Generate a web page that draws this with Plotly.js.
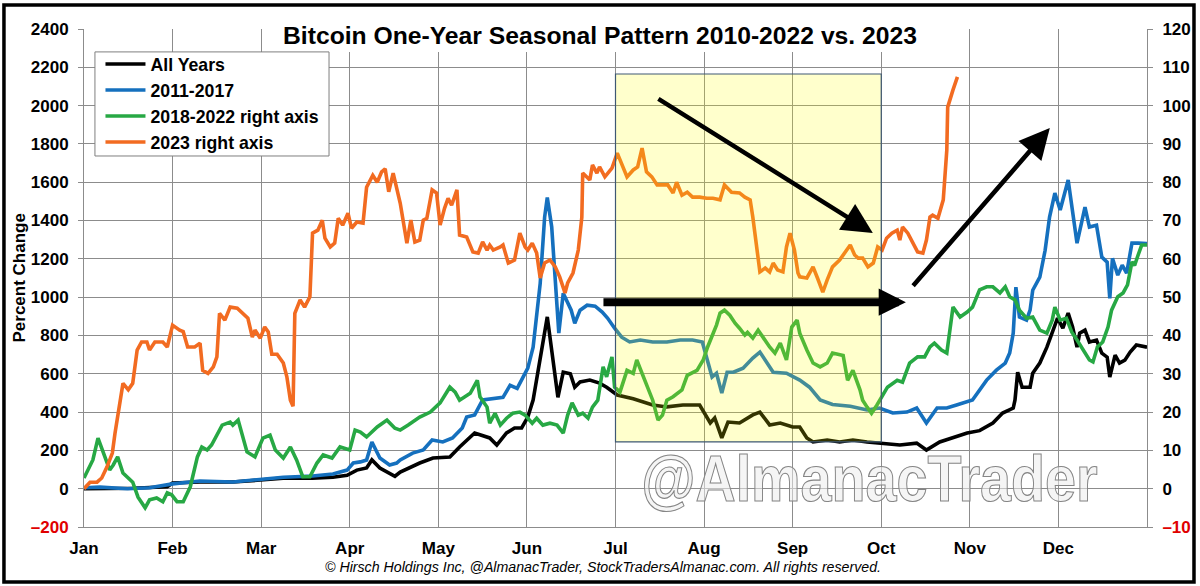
<!DOCTYPE html>
<html>
<head>
<meta charset="utf-8">
<script src="https://cdn.plot.ly/plotly-3.0.1.min.js"></script>
<style>html,body{margin:0;padding:0;background:#fff;}#chart{width:1200px;height:586px;}</style>
</head>
<body>
<div id="chart"></div>
<script>
// x values are positions in months (0 = start of Jan, 12 = end of Dec)
const months = ['Jan','Feb','Mar','Apr','May','Jun','Jul','Aug','Sep','Oct','Nov','Dec',''];
const leftTicks = [-200,0,200,400,600,800,1000,1200,1400,1600,1800,2000,2200,2400];
const rightTicks = [-10,0,10,20,30,40,50,60,70,80,90,100,110,120];

const allYearsX = [0,0.55,0.94,1.00,1.31,1.68,1.99,2.25,2.58,2.81,2.97,3.08,3.19,3.25,3.34,3.51,3.57,3.79,3.94,4.13,4.24,4.41,4.58,4.66,4.77,4.86,4.94,5.01,5.07,5.23,5.35,5.41,5.49,5.54,5.60,5.71,5.82,5.90,6.02,6.20,6.42,6.58,6.76,6.95,7.07,7.12,7.20,7.27,7.40,7.55,7.63,7.74,7.86,8.00,8.08,8.16,8.23,8.39,8.53,8.68,8.84,8.98,9.21,9.40,9.51,9.66,9.81,9.97,10.11,10.26,10.37,10.49,10.51,10.54,10.59,10.68,10.71,10.79,10.87,10.94,10.99,11.05,11.11,11.16,11.21,11.24,11.30,11.35,11.43,11.49,11.55,11.58,11.64,11.69,11.75,11.81,11.88,12.0];
const allYearsY = [0,2,10,30,35,35,45,55,55,60,70,97,108,150,108,65,87,134,160,165,218,291,265,228,291,317,317,374,463,897,477,608,600,530,557,567,551,530,489,469,437,427,437,437,343,369,265,348,343,385,400,333,343,322,322,265,244,254,244,254,244,238,228,238,202,244,265,291,303,343,395,421,463,608,530,530,603,656,739,828,891,838,917,844,739,812,828,766,776,708,687,583,697,656,671,713,750,739];

const y2011X = [0,0.18,0.49,0.74,1.00,1.31,1.68,1.99,2.25,2.58,2.81,2.97,3.04,3.12,3.19,3.25,3.34,3.45,3.53,3.57,3.71,3.83,3.93,4.05,4.16,4.27,4.32,4.41,4.50,4.73,4.81,4.89,4.95,5.01,5.07,5.15,5.20,5.23,5.28,5.32,5.36,5.41,5.45,5.50,5.54,5.60,5.68,5.77,5.85,5.91,5.99,6.07,6.16,6.28,6.42,6.58,6.73,6.87,6.98,7.03,7.09,7.14,7.20,7.26,7.33,7.44,7.55,7.63,7.71,7.78,7.93,8.08,8.19,8.31,8.45,8.65,8.84,8.98,9.13,9.29,9.40,9.51,9.63,9.74,9.85,9.97,10.03,10.19,10.30,10.40,10.45,10.49,10.52,10.56,10.64,10.68,10.71,10.79,10.85,10.90,10.96,11.02,11.11,11.21,11.30,11.35,11.43,11.49,11.55,11.58,11.61,11.67,11.72,11.77,11.83,11.90,12.0];
const y2011Y = [5,8,0,5,25,40,35,50,60,66,77,97,134,140,150,244,160,124,134,150,186,202,254,244,265,317,374,385,463,477,540,524,582,629,739,1072,1418,1520,1366,1072,812,1020,985,932,864,932,958,953,922,891,838,791,766,776,766,766,776,776,766,687,583,603,499,608,608,629,682,713,656,608,603,567,530,463,440,430,411,421,395,400,421,343,421,421,437,453,463,567,619,656,708,812,1052,896,880,932,1036,1104,1245,1418,1543,1455,1612,1282,1470,1366,1376,1209,1183,994,1203,1115,1167,1125,1282,1282,1280];

const y2018X = [0,0.10,0.158,0.21,0.29,0.33,0.38,0.44,0.52,0.55,0.61,0.69,0.74,0.82,0.89,0.94,0.99,1.05,1.12,1.20,1.28,1.33,1.39,1.44,1.56,1.65,1.68,1.74,1.84,1.93,2.02,2.10,2.16,2.25,2.33,2.40,2.47,2.55,2.63,2.70,2.80,2.89,3.00,3.06,3.12,3.19,3.31,3.42,3.51,3.57,3.66,3.79,3.91,4.02,4.13,4.19,4.24,4.36,4.44,4.47,4.55,4.58,4.64,4.70,4.77,4.84,4.92,4.98,5.06,5.11,5.18,5.26,5.34,5.41,5.46,5.51,5.58,5.63,5.69,5.74,5.80,5.82,5.86,5.90,5.96,5.99,6.05,6.13,6.20,6.24,6.30,6.37,6.42,6.48,6.53,6.58,6.65,6.75,6.81,6.92,6.99,7.04,7.10,7.14,7.18,7.23,7.29,7.35,7.40,7.46,7.49,7.55,7.61,7.66,7.74,7.80,7.86,7.93,7.99,8.05,8.08,8.16,8.23,8.31,8.39,8.45,8.57,8.62,8.68,8.76,8.79,8.84,8.89,8.95,8.98,9.07,9.18,9.24,9.32,9.41,9.49,9.55,9.60,9.68,9.74,9.81,9.89,9.97,10.03,10.11,10.19,10.26,10.34,10.40,10.45,10.51,10.56,10.64,10.71,10.79,10.87,10.93,10.96,11.02,11.09,11.15,11.21,11.28,11.35,11.39,11.44,11.50,11.56,11.60,11.67,11.73,11.78,11.83,11.86,11.90,11.94,12.0];
const y2018Y = [2.8,7.5,13.2,10.1,4.9,6.2,8.3,4.1,2.3,1.7,-2.2,-5.0,-2.9,-2.4,-3.4,-1.1,-1.6,-3.4,-3.4,0.5,8.3,10.9,10.1,11.4,16.6,17.4,16.6,17.9,9.6,8.3,13.2,14.0,10.1,8.0,10.9,7.5,3.1,3.1,6.7,8.8,8.0,10.9,10.1,15.3,14.8,13.5,16.1,17.9,15.8,15.3,16.6,18.7,20.0,22.4,26.5,25.2,23.1,24.9,28.3,24.0,21.3,17.1,19.7,16.6,18.4,19.7,20.0,19.2,17.1,18.4,16.6,17.1,16.6,14.5,19.2,22.4,19.2,19.7,18.4,21.3,23.1,26.5,31.8,29.2,34.4,26.5,25.2,30.9,30.1,33.6,30.1,25.8,23.1,17.9,19.2,23.1,24.0,25.8,29.6,30.9,33.6,37.0,40.6,42.7,45.8,46.6,45.3,43.2,41.9,40.1,40.8,39.3,41.4,39.6,37.0,35.4,38.0,33.6,42.2,44.0,40.6,36.2,32.8,31.8,32.8,35.4,34.8,28.3,30.9,25.8,23.1,21.3,19.7,21.8,23.1,26.5,28.3,27.8,32.8,34.4,34.4,37.0,38.0,36.2,35.4,47.4,44.8,46.1,47.4,51.9,52.7,52.7,51.1,52.7,50.1,49.3,46.6,44.5,44.8,41.4,40.6,44.0,47.4,44.0,44.5,40.9,38.8,36.2,33.6,33.1,37.0,38.3,42.2,46.6,50.1,51.1,53.2,59.2,58.3,61.0,63.6,63.6];

const y2023X = [0,0.068,0.147,0.20,0.26,0.32,0.35,0.41,0.44,0.50,0.55,0.60,0.65,0.71,0.74,0.80,0.89,0.94,1.00,1.08,1.12,1.17,1.25,1.31,1.34,1.40,1.46,1.50,1.53,1.59,1.65,1.73,1.79,1.85,1.90,1.93,1.99,2.04,2.08,2.12,2.18,2.25,2.29,2.33,2.36,2.38,2.44,2.49,2.55,2.58,2.64,2.69,2.72,2.78,2.83,2.87,2.92,2.98,3.02,3.08,3.15,3.19,3.26,3.31,3.36,3.40,3.44,3.49,3.57,3.645,3.69,3.735,3.79,3.83,3.87,3.93,3.98,4.02,4.07,4.11,4.15,4.21,4.24,4.32,4.39,4.45,4.50,4.55,4.58,4.62,4.70,4.73,4.79,4.86,4.92,4.98,5.01,5.06,5.11,5.15,5.20,5.26,5.32,5.37,5.43,5.46,5.52,5.58,5.62,5.63,5.71,5.74,5.79,5.82,5.88,5.96,6.02,6.07,6.13,6.20,6.25,6.30,6.35,6.41,6.47,6.53,6.59,6.65,6.69,6.75,6.81,6.87,6.95,7.03,7.10,7.18,7.23,7.31,7.40,7.46,7.52,7.55,7.60,7.63,7.69,7.74,7.78,7.83,7.89,7.93,7.97,8.02,8.06,8.08,8.16,8.23,8.28,8.34,8.39,8.45,8.53,8.59,8.65,8.70,8.74,8.79,8.85,8.91,8.96,9.01,9.06,9.12,9.18,9.21,9.24,9.30,9.36,9.41,9.47,9.51,9.55,9.58,9.64,9.70,9.74,9.75,9.81,9.86];
const y2023Y = [0,1.7,1.7,2.8,5.7,9.3,14.5,23.1,27.5,25.8,27.5,36.2,38.3,38.3,36.2,38.3,38.3,37.0,42.7,41.4,41.0,37.0,37.0,38.0,30.9,30.1,31.8,34.4,45.8,44.0,47.4,47.1,45.8,44.5,39.6,41.4,39.3,42.2,40.9,35.1,35.1,32.8,29.2,23.1,21.5,45.8,49.3,47.4,50.1,66.7,67.5,70.1,65.4,63.1,64.1,70.6,68.8,71.9,68.0,69.6,69.3,78.7,81.8,80.0,82.7,83.5,77.5,82.4,74.5,64.1,70.1,64.4,64.9,70.1,70.6,78.0,77.2,68.8,73.2,75.8,74.0,78.0,66.2,65.7,61.8,61.5,64.4,62.3,63.6,62.3,63.1,63.6,58.9,59.7,66.7,63.1,62.3,64.1,61.5,55.0,58.9,59.7,57.9,55.3,51.1,53.7,56.3,62.3,70.9,82.4,80.6,84.5,82.4,84.0,81.4,83.7,87.6,84.5,81.4,83.2,84.0,88.9,82.7,81.4,79.3,79.3,79.3,77.2,80.0,76.6,77.4,76.1,76.1,75.8,75.8,75.4,79.3,77.4,77.2,76.1,75.4,70.9,62.3,56.6,57.6,56.6,58.9,57.1,56.6,63.1,66.7,62.3,56.3,55.3,55.0,57.9,55.0,51.3,54.5,57.9,59.7,61.8,63.6,61.0,60.2,60.2,57.9,58.9,63.1,62.3,65.4,66.7,67.5,64.9,68.3,66.7,64.1,61.8,61.5,64.9,70.9,71.4,70.6,75.4,88.4,99.6,104.1,107.5];

const seriesNames = ['All Years','2011-2017','2018-2022 right axis','2023 right axis'];

const FONT = 'Liberation Sans, Arial, Helvetica, sans-serif';
const GRID = '#8c8c8c';
const LW = 3.6;

const traces = [
  {x: allYearsX, y: allYearsY, name: seriesNames[0], yaxis: 'y', line: {color: '#000000', width: LW}},
  {x: y2011X, y: y2011Y, name: seriesNames[1], yaxis: 'y', line: {color: '#1570BE', width: LW}},
  {x: y2018X, y: y2018Y, name: seriesNames[2], yaxis: 'y2', line: {color: '#27A844', width: LW}},
  {x: y2023X, y: y2023Y, name: seriesNames[3], yaxis: 'y2', line: {color: '#F26B21', width: LW}}
].map((t, i) => Object.assign({type: 'scatter', mode: 'lines', legendgroup: 'g' + i, hoverinfo: 'skip'}, t));

const red = v => '<span style="color:#E00000">' + v + '</span>';
const fmt = v => v < 0 ? '\u2013' + Math.abs(v) : String(v);
const tickFont = {family: FONT, size: 17, weight: 'bold', color: '#000000'};

const layout = {
  width: 1200, height: 586,
  margin: {l: 84, r: 53, t: 29, b: 59, pad: 0},
  paper_bgcolor: '#ffffff', plot_bgcolor: '#ffffff',
  font: {family: FONT, color: '#000000'},
  showlegend: true,
  title: {text: 'Bitcoin One-Year Seasonal Pattern 2010-2022 vs. 2023', x: 0.5, xanchor: 'center', y: 0.94, yanchor: 'middle', yref: 'container',
          font: {family: FONT, size: 24.7, weight: 'bold', color: '#000000'}},
  legend: {x: 0.0155, y: 0.966, xanchor: 'left', yanchor: 'top', bgcolor: 'rgba(0,0,0,0)', borderwidth: 0,
           font: {family: FONT, size: 17.7, weight: 'bold', color: '#000000'}, traceorder: 'grouped', tracegroupgap: 0, itemwidth: 40},
  xaxis: {range: [0, 12], tickmode: 'array', tickvals: months.map((m, i) => i), ticktext: months,
          showgrid: true, gridcolor: GRID, gridwidth: 1, zeroline: false, showline: true, linecolor: GRID, linewidth: 1,
          ticks: '', ticklabelstandoff: 6, tickfont: tickFont, fixedrange: true},
  yaxis: {range: [-200, 2400], tickmode: 'array', tickvals: leftTicks, ticktext: leftTicks.map(v => v < 0 ? red(fmt(v)) : fmt(v)),
          showgrid: true, gridcolor: GRID, gridwidth: 1, zeroline: false, showline: true, linecolor: GRID, linewidth: 1,
          ticks: 'outside', ticklen: 5, tickcolor: GRID, ticklabelstandoff: 6, tickfont: tickFont, fixedrange: true},
  yaxis2: {range: [-10, 120], overlaying: 'y', side: 'right', tickmode: 'array', tickvals: rightTicks,
           ticktext: rightTicks.map(v => v < 0 ? red(fmt(v)) : fmt(v)),
           showgrid: false, zeroline: false, showline: true, linecolor: GRID, linewidth: 1,
           ticks: 'outside', ticklen: 5, tickcolor: GRID, ticklabelstandoff: 6, tickfont: tickFont, fixedrange: true},
  shapes: [
    // highlighted Jul-Sep window
    {type: 'rect', xref: 'x', yref: 'y', x0: 6, x1: 9, y0: 244, y1: 2165, layer: 'above',
     fillcolor: 'rgba(255,255,0,0.2)', line: {color: '#3E5874', width: 1.2}},
    // white area behind the title
    {type: 'rect', xref: 'paper', yref: 'paper', x0: 0.1797, x1: 0.789, y0: 0.9538, y1: 1.03, layer: 'above',
     fillcolor: '#ffffff', line: {width: 0}},
    // legend box
    {type: 'rect', xref: 'paper', yref: 'paper', x0: 0.0103, x1: 0.2305, y0: 0.745, y1: 0.954, layer: 'above',
     fillcolor: '#ffffff', line: {color: '#7f7f7f', width: 1}},
    // outer frame
    {type: 'rect', xref: 'paper', yref: 'paper', x0: -0.0753, x1: 1.0442, y0: -0.1104, y1: 1.0482, layer: 'above',
     fillcolor: 'rgba(0,0,0,0)', line: {color: '#000000', width: 3.5}}
  ],
  annotations: [
    {text: '@AlmanacTrader', xref: 'paper', yref: 'paper', x: 0.7385, y: 0.0964, xanchor: 'center', yanchor: 'middle', showarrow: false,
     font: {family: FONT, size: 64, weight: 'bold', color: 'rgba(236,236,236,0.55)'}},
    {text: 'Percent Change', xref: 'paper', yref: 'paper', x: -0.0616, y: 0.5, xanchor: 'center', yanchor: 'middle', showarrow: false,
     textangle: -90, font: {family: FONT, size: 17, weight: 'bold', color: '#000000'}},
    {text: '\u00A9 Hirsch Holdings Inc, @AlmanacTrader, StockTradersAlmanac.com. All rights reserved.', xref: 'paper', yref: 'paper',
     x: 0.488, y: -0.0803, xanchor: 'center', yanchor: 'middle', showarrow: false,
     font: {family: FONT, size: 14.2, style: 'italic', color: '#000000'}},
    // arrows
    {text: '', x: 8.905, y: 1335, ax: 6.467, ay: 2040, xref: 'x', yref: 'y', axref: 'x', ayref: 'y',
     showarrow: true, arrowhead: 2, arrowsize: 1.35, arrowwidth: 4.5, arrowcolor: '#000000', standoff: 0, startstandoff: 0},
    {text: '', x: 9.278, y: 974, ax: 5.847, ay: 974, xref: 'x', yref: 'y', axref: 'x', ayref: 'y',
     showarrow: true, arrowhead: 2, arrowsize: 0.68, arrowwidth: 8, arrowcolor: '#000000', standoff: 0, startstandoff: 0},
    {text: '', x: 10.903, y: 1883, ax: 9.345, ay: 1052, xref: 'x', yref: 'y', axref: 'x', ayref: 'y',
     showarrow: true, arrowhead: 2, arrowsize: 1.35, arrowwidth: 4.5, arrowcolor: '#000000', standoff: 0, startstandoff: 0}
  ]
};

Plotly.newPlot('chart', traces, layout, {staticPlot: true, displayModeBar: false}).then(function () {
  // outlined, horizontally condensed watermark
  document.querySelectorAll('text.annotation-text').forEach(function (t) {
    if (t.textContent === '@AlmanacTrader') {
      const b = t.getBBox();
      const cx = b.x + b.width / 2;
      const prev = t.getAttribute('transform') || '';
      t.setAttribute('transform', prev + ' translate(' + cx + ',0) scale(0.87,1) translate(' + (-cx) + ',0)');
      t.style.stroke = '#858585';
      t.style.strokeWidth = '1.1px';
    }
  });
});
</script>
</body>
</html>
